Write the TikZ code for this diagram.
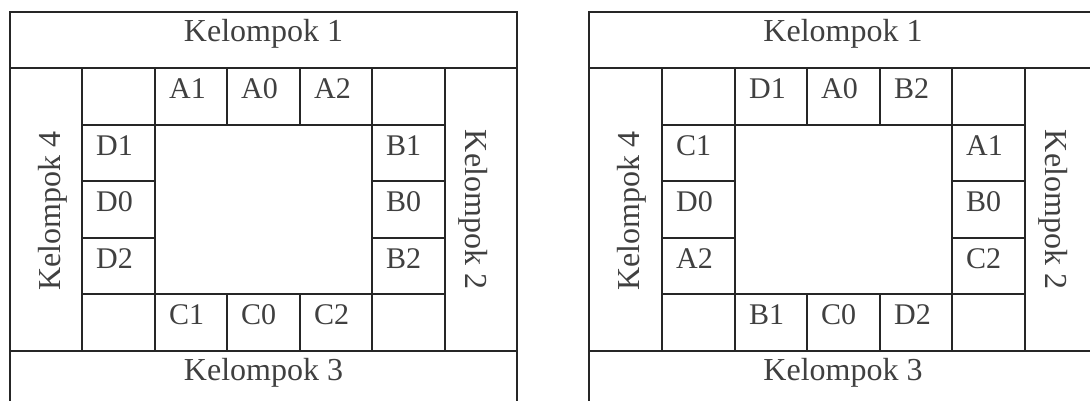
\documentclass[tikz,border=0pt]{standalone}
\usepackage{fontspec}
\setmainfont{Liberation Serif}
\definecolor{rule}{HTML}{262626}
\definecolor{ink}{HTML}{404040}

\begin{document}
\begin{tikzpicture}[x=1pt,y=-1pt]

        \useasboundingbox (0,0) rectangle (1090,400);
        \clip (0,0) rectangle (1090,400);

        \begin{scope}[every path/.style={draw=rule, line width=1.2pt}]
          % left table
          \draw (10,12) rectangle (517,407);
          \draw (10,68)   -- (517,68);
          \draw (10,351)  -- (517,351);
          \draw (82,68)   -- (82,351);
          \draw (155,68)  -- (155,351);
          \draw (372,68)  -- (372,351);
          \draw (445,68)  -- (445,351);
          \draw (82,125)  -- (445,125);
          \draw (82,294)  -- (445,294);
          \draw (82,181)  -- (155,181);
          \draw (82,238)  -- (155,238);
          \draw (372,181) -- (445,181);
          \draw (372,238) -- (445,238);
          \draw (227,68)  -- (227,125);
          \draw (300,68)  -- (300,125);
          \draw (227,294) -- (227,351);
          \draw (300,294) -- (300,351);
        \end{scope}

        \begin{scope}[xshift=579pt, every path/.style={draw=rule, line width=1.2pt}]
          % right table
          \draw (10,12) rectangle (518,407);
          \draw (10,68)   -- (518,68);
          \draw (10,351)  -- (518,351);
          \draw (83,68)   -- (83,351);
          \draw (156,68)  -- (156,351);
          \draw (373,68)  -- (373,351);
          \draw (446,68)  -- (446,351);
          \draw (83,125)  -- (446,125);
          \draw (83,294)  -- (446,294);
          \draw (83,181)  -- (156,181);
          \draw (83,238)  -- (156,238);
          \draw (373,181) -- (446,181);
          \draw (373,238) -- (446,238);
          \draw (228,68)  -- (228,125);
          \draw (301,68)  -- (301,125);
          \draw (228,294) -- (228,351);
          \draw (301,294) -- (301,351);
        \end{scope}

        \begin{scope}[every node/.style={text=ink, inner sep=0pt, font=\fontsize{32}{32}\selectfont}]
          % group headers
          \node[anchor=base] (l-k1) at (263.5,41.5)  {Kelompok 1};
          \node[anchor=base] (l-k3) at (263.5,380.5) {Kelompok 3};
          \node[anchor=base, rotate=90]  (l-k4) at (60,211)  {Kelompok 4};
          \node[anchor=base, rotate=-90] (l-k2) at (465,209.5) {Kelompok 2};
          \node[anchor=base] (r-k1) at (843,41.5)  {Kelompok 1};
          \node[anchor=base] (r-k3) at (843,380.5) {Kelompok 3};
          \node[anchor=base, rotate=90]  (r-k4) at (639,211)  {Kelompok 4};
          \node[anchor=base, rotate=-90] (r-k2) at (1045,209.5) {Kelompok 2};
        \end{scope}

        \begin{scope}[every node/.style={anchor=base west, text=ink, inner sep=0pt, font=\fontsize{30}{30}\selectfont}]
          % left table seats
          \node (l-A1) at (169,98)  {A1};
          \node (l-A0) at (241,98)  {A0};
          \node (l-A2) at (314,98)  {A2};
          \node (l-D1) at (96,155)  {D1};
          \node (l-D0) at (96,211)  {D0};
          \node (l-D2) at (96,268)  {D2};
          \node (l-B1) at (386,155) {B1};
          \node (l-B0) at (386,211) {B0};
          \node (l-B2) at (386,268) {B2};
          \node (l-C1) at (169,324) {C1};
          \node (l-C0) at (241,324) {C0};
          \node (l-C2) at (314,324) {C2};
          % right table seats
          \node (r-D1) at (749,98)  {D1};
          \node (r-A0) at (821,98)  {A0};
          \node (r-B2) at (894,98)  {B2};
          \node (r-C1) at (676,155) {C1};
          \node (r-D0) at (676,211) {D0};
          \node (r-A2) at (676,268) {A2};
          \node (r-A1) at (966,155) {A1};
          \node (r-B0) at (966,211) {B0};
          \node (r-C2) at (966,268) {C2};
          \node (r-B1) at (749,324) {B1};
          \node (r-C0) at (821,324) {C0};
          \node (r-D2) at (894,324) {D2};
        \end{scope}

      \end{tikzpicture}
\end{document}
